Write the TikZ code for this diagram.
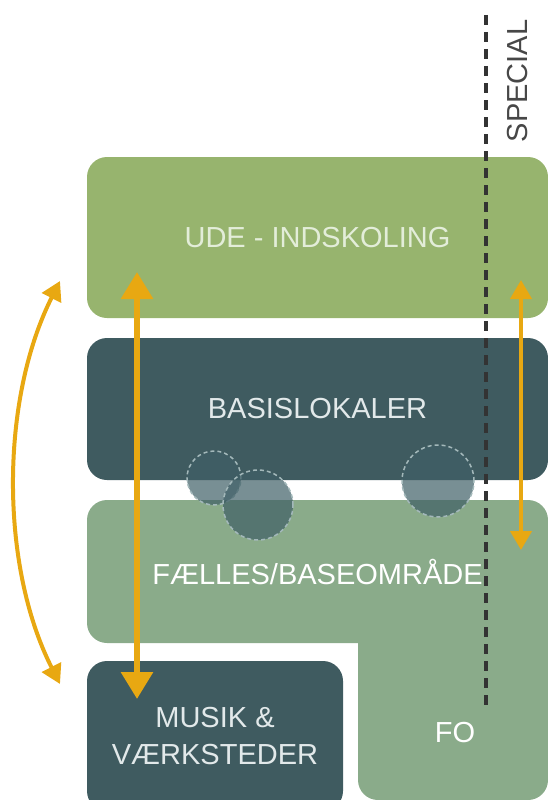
\documentclass[tikz,border=0pt]{standalone}
\usepackage{fontspec}
\setmainfont{Liberation Sans}
\usetikzlibrary{arrows.meta}
\definecolor{udegreen}{HTML}{97B46E}
\definecolor{darkteal}{HTML}{3F5B60}
\definecolor{faelgreen}{HTML}{8AAB8A}
\definecolor{arroworange}{HTML}{E8A812}
\definecolor{circfill}{HTML}{3F5F66}
\definecolor{circline}{HTML}{A3B8BA}
\definecolor{dashgray}{HTML}{333333}
\definecolor{udetext}{HTML}{E3EDD9}
\definecolor{tealtext}{HTML}{E2E9EA}
\tikzset{
  x=1pt, y=-1pt,
  block/.style={rounded corners=20pt, inner sep=0pt, font=\fontsize{29}{37}\selectfont, align=center},
  bigarrow/.style={arroworange, line width=6pt, -{Triangle[width=31pt,length=27pt]}, shorten >=0pt},
  bigarrowboth/.style={arroworange, line width=6pt, {Triangle[width=31pt,length=27pt]}-{Triangle[width=31pt,length=27pt]}},
  smallarrowboth/.style={arroworange, line width=4pt, {Triangle[width=21pt,length=19pt]}-{Triangle[width=21pt,length=19pt]}},
  bubble/.style={circle, fill=circfill, fill opacity=0.7, draw=circline, draw opacity=1, line width=1.5pt, dash pattern=on 4pt off 3pt, inner sep=0pt},
  divider/.style={dashgray, line width=4pt, dash pattern=on 10pt off 7pt},
}
\begin{document}
\begin{tikzpicture}
\useasboundingbox (0,0) rectangle (548,800);
\begin{scope}
\clip (0,0) rectangle (548,800);
% blocks
\node[block, fill=udegreen, text=udetext, minimum width=461pt, minimum height=161pt] (ude) at (317.5,237.5) {UDE - INDSKOLING};
\node[block, fill=darkteal, text=tealtext, minimum width=461pt, minimum height=142pt] (basis) at (317.5,409) {BASISLOKALER};
\node[block, fill=faelgreen, minimum width=190pt, minimum height=240pt] (fo) at (453,680) {};
\node[block, fill=faelgreen, text=white, minimum width=461pt, minimum height=143pt] (faelles) at (317.5,571.5) {FÆLLES/BASEOMRÅDE};
\node[font=\fontsize{29}{37}\selectfont, text=white] (folabel) at (455,733) {FO};
\node[block, fill=darkteal, text=tealtext, minimum width=256pt, minimum height=150pt] (musik) at (215,736) {MUSIK \&\\VÆRKSTEDER};
\end{scope}
% bubbles
\node[bubble, minimum size=54pt] (c1) at (214,478) {};
\node[bubble, minimum size=70pt] (c2) at (258,505) {};
\node[bubble, minimum size=72pt] (c3) at (438,481) {};
% divider
\coordinate (dtop) at (486,15);
\coordinate (dbot) at (486,705);
\draw[divider] (dtop) -- (dbot);
\node[rotate=90, font=\fontsize{29}{37}\selectfont, text=dashgray!90] (special) at (518,81) {SPECIAL};
% arrows
\coordinate (a1) at (137,272);
\coordinate (a2) at (137,699);
\draw[bigarrowboth] (a1) -- (a2);
\coordinate (b1) at (521,280);
\coordinate (b2) at (521,550);
\draw[smallarrowboth] (b1) -- (b2);
\coordinate (l1) at (60,281);
\coordinate (l2) at (60,684);
\draw[smallarrowboth] (l1) .. controls (0,400) and (0,566) .. (l2);
\end{tikzpicture}
\end{document}
